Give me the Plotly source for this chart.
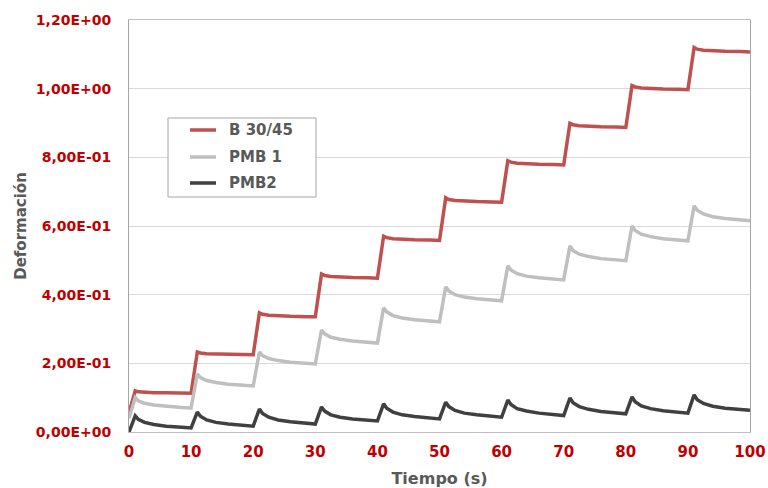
import plotly.graph_objects as go

# time points (s)
tiempo = [0, 1, 1.5, 2.5, 4, 6, 8.5,
          10, 11, 11.5, 12.5, 14, 16, 18.5,
          20, 21, 21.5, 22.5, 24, 26, 28.5,
          30, 31, 31.5, 32.5, 34, 36, 38.5,
          40, 41, 41.5, 42.5, 44, 46, 48.5,
          50, 51, 51.5, 52.5, 54, 56, 58.5,
          60, 61, 61.5, 62.5, 64, 66, 68.5,
          70, 71, 71.5, 72.5, 74, 76, 78.5,
          80, 81, 81.5, 82.5, 84, 86, 88.5,
          90, 91, 91.5, 92.5, 94, 96, 98.5,
          100]

b3045 = [0.055, 0.120, 0.117, 0.115, 0.114, 0.114, 0.113,
         0.113, 0.233, 0.230, 0.228, 0.227, 0.226, 0.226,
         0.225, 0.347, 0.343, 0.340, 0.338, 0.337, 0.336,
         0.336, 0.460, 0.456, 0.453, 0.451, 0.450, 0.449,
         0.448, 0.570, 0.566, 0.563, 0.561, 0.560, 0.559,
         0.558, 0.682, 0.677, 0.674, 0.672, 0.671, 0.670,
         0.669, 0.790, 0.786, 0.783, 0.781, 0.780, 0.779,
         0.778, 0.899, 0.895, 0.892, 0.890, 0.889, 0.888,
         0.887, 1.009, 1.005, 1.002, 1.000, 0.999, 0.998,
         0.997, 1.120, 1.115, 1.112, 1.110, 1.109, 1.108,
         1.107]

pmb1 = [0.040, 0.100, 0.091, 0.0835, 0.0784, 0.0745, 0.0715,
        0.070, 0.169, 0.1585, 0.150, 0.144, 0.139, 0.136,
        0.134, 0.233, 0.2225, 0.214, 0.208, 0.203, 0.200,
        0.198, 0.297, 0.286, 0.276, 0.270, 0.265, 0.261,
        0.259, 0.362, 0.350, 0.339, 0.332, 0.327, 0.323,
        0.321, 0.423, 0.411, 0.400, 0.393, 0.388, 0.384,
        0.382, 0.484, 0.472, 0.461, 0.454, 0.449, 0.445,
        0.443, 0.542, 0.529, 0.518, 0.511, 0.505, 0.501,
        0.499, 0.600, 0.587, 0.576, 0.569, 0.563, 0.559,
        0.557, 0.659, 0.646, 0.635, 0.627, 0.622, 0.617,
        0.615]

pmb2 = [0.000, 0.047, 0.037, 0.028, 0.022, 0.017, 0.014,
        0.012, 0.058, 0.046, 0.035, 0.028, 0.023, 0.019,
        0.017, 0.067, 0.054, 0.043, 0.035, 0.030, 0.025,
        0.023, 0.073, 0.061, 0.050, 0.043, 0.038, 0.034,
        0.032, 0.082, 0.069, 0.058, 0.050, 0.045, 0.040,
        0.038, 0.087, 0.074, 0.063, 0.055, 0.050, 0.045,
        0.043, 0.093, 0.080, 0.068, 0.061, 0.055, 0.050,
        0.048, 0.099, 0.085, 0.074, 0.066, 0.060, 0.055,
        0.053, 0.102, 0.088, 0.076, 0.068, 0.062, 0.057,
        0.055, 0.108, 0.094, 0.083, 0.075, 0.069, 0.065,
        0.063]

y_ticks = [0, 0.2, 0.4, 0.6, 0.8, 1.0, 1.2]
y_labels = ["0,00E+00", "2,00E-01", "4,00E-01", "6,00E-01", "8,00E-01", "1,00E+00", "1,20E+00"]
x_ticks = [0, 10, 20, 30, 40, 50, 60, 70, 80, 90, 100]

series = [("B 30/45", b3045, "#C0504D"),
          ("PMB 1", pmb1, "#BFBFBF"),
          ("PMB2", pmb2, "#404040")]

W, H = 768, 488
ML, MR, MT, MB = 129, 18, 20, 56
PW, PH = W - ML - MR, H - MT - MB

def px(x):
    return (x - ML) / PW

def py(y):
    return (H - MB - y) / PH

red = "#C00000"
gray = "#595959"

fig = go.Figure()
shapes = [dict(type="rect", xref="paper", yref="paper",
               x0=px(168), x1=px(316), y0=py(197), y1=py(118),
               line=dict(color="#A6A6A6", width=1), fillcolor="white", layer="above")]
annotations = []
leg_y = [130, 157, 183]
for (name, vals, col), ly in zip(series, leg_y):
    fig.add_trace(go.Scatter(x=tiempo, y=vals, name=name, mode="lines",
                             line=dict(color=col, width=3.5), showlegend=False))
    shapes.append(dict(type="line", xref="paper", yref="paper",
                       x0=px(190), x1=px(216), y0=py(ly), y1=py(ly),
                       line=dict(color=col, width=3.5), layer="above"))
    annotations.append(dict(xref="paper", yref="paper", x=px(227), y=py(ly),
                            xanchor="left", yanchor="middle", showarrow=False,
                            text=name, font=dict(size=15, color=gray, weight="bold")))

fig.update_layout(
    width=W, height=H,
    margin=dict(l=ML, r=MR, t=MT, b=MB),
    paper_bgcolor="white", plot_bgcolor="white",
    font=dict(family="DejaVu Sans", color=gray),
    showlegend=False,
    shapes=shapes, annotations=annotations,
    xaxis=dict(range=[0, 100], tickvals=x_ticks, showgrid=False, automargin=False,
               showline=True, linecolor="#BFBFBF", linewidth=1, mirror=True,
               ticks="", zeroline=False, ticklabelstandoff=6,
               tickfont=dict(size=15, color=red, weight="bold"),
               title=dict(text="Tiempo (s)", font=dict(size=16, color=gray, weight="bold"), standoff=14)),
    yaxis=dict(range=[0, 1.2], tickvals=y_ticks, ticktext=y_labels, automargin=False,
               showgrid=True, gridcolor="#D9D9D9", gridwidth=1,
               showline=True, linecolor="#A6A6A6", linewidth=1, mirror=True,
               ticks="", zeroline=False, ticklabelstandoff=14,
               tickfont=dict(size=14, color=red, weight="bold"),
               title=dict(text="Deformación", font=dict(size=15, color=gray, weight="bold"), standoff=5)),
)

fig.write_html("out.html")
